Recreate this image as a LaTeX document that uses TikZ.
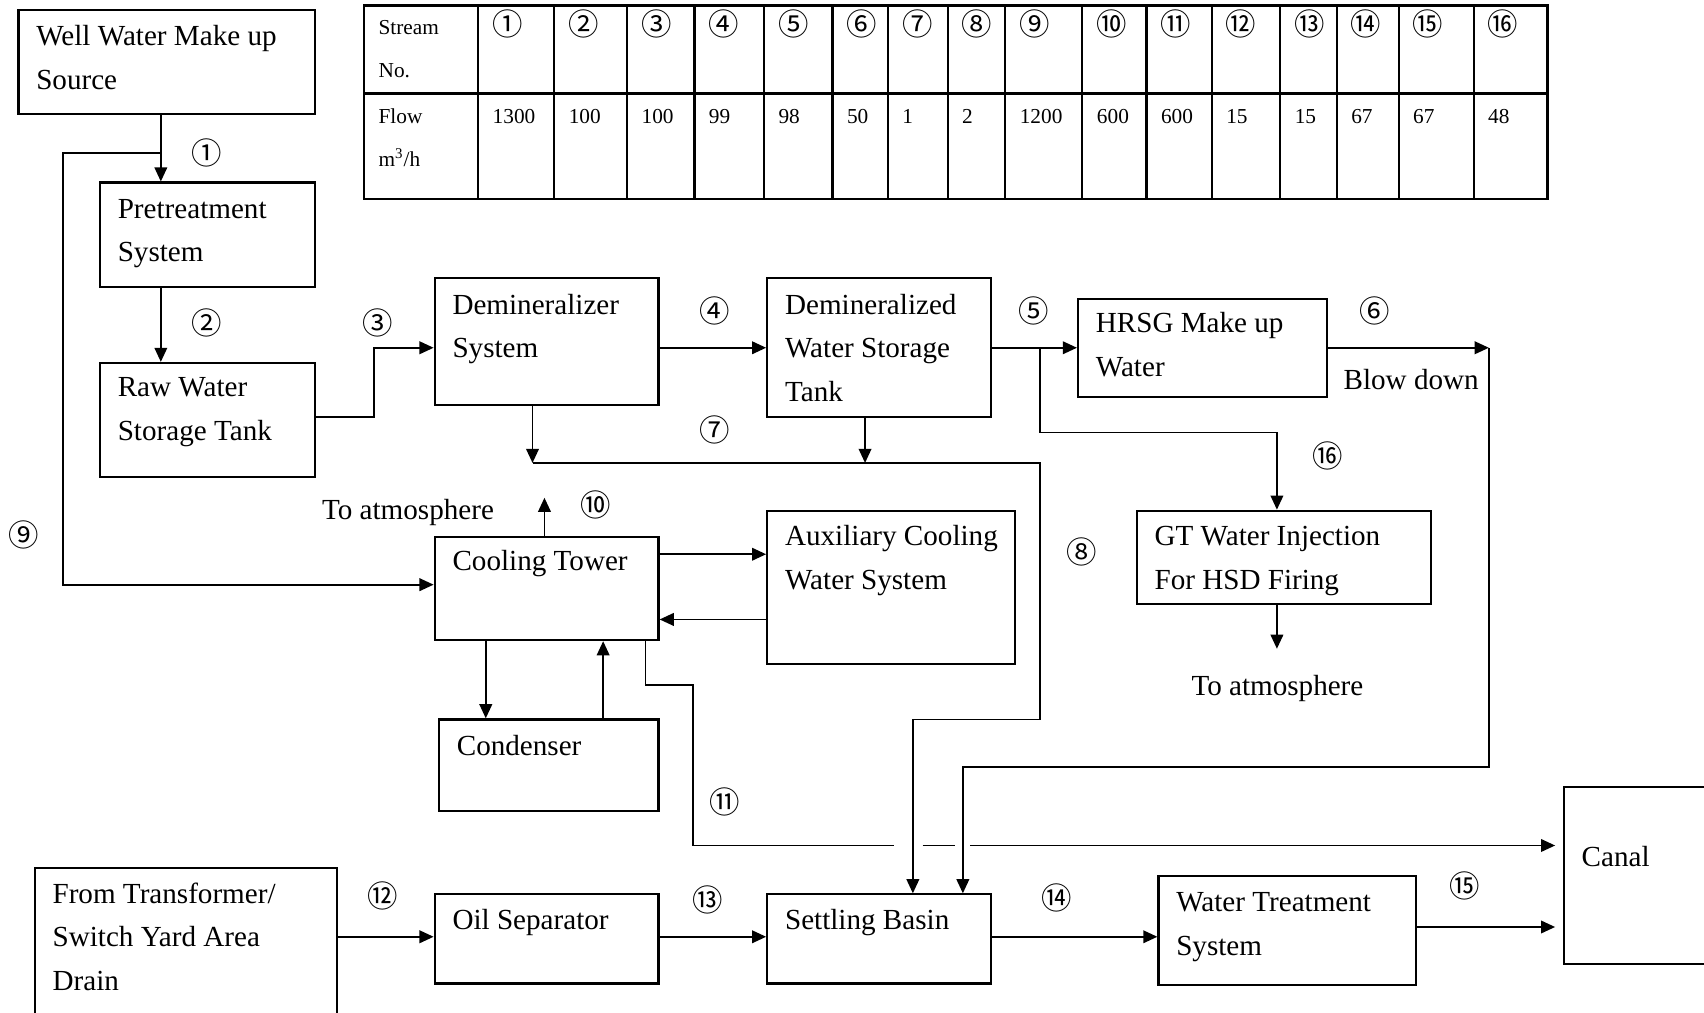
\documentclass[tikz,border=0pt]{standalone}
\usepackage{fontspec}
\usepackage{graphicx}
\setmainfont{Liberation Serif}
\newfontfamily\circfont{Noto Sans CJK SC}
\usetikzlibrary{arrows.meta,fit}
\newcommand\cn[1]{{\circfont #1}}

\begin{document}
\begin{tikzpicture}[x=0.5pt,y=-0.5pt,
  box/.style={draw, line width=1pt, inner sep=0pt},
  flow/.style={line width=0.85pt, -{Triangle[length=6.5pt,width=5.8pt]}},
  pipe/.style={line width=0.85pt},
  % multi-line labels are placed at the baseline of their last line
  txt/.style={anchor=base west, align=left, inner sep=0pt, font=\fontsize{13.4}{20}\selectfont},
  tab/.style={anchor=base west, align=left, inner sep=0pt, font=\fontsize{9.8}{19.5}\selectfont},
  num/.style={inner sep=0pt, font=\fontsize{14}{14}\selectfont}]

\useasboundingbox (0,0) rectangle (1568,932);
\clip (0,0) rectangle (1568,932);

% ---------- stream table ----------
\draw[line width=1pt] (335,5) rectangle (1424,183);
\draw[line width=1pt] (335,86) -- (1424,86);
\foreach \cx in {440,510,577,639,703,766,817,872,925,996,1055,1115,1178,1230,1287,1356}
  \draw[line width=1pt] (\cx,5) -- (\cx,183);
\node[tab] (thead) at (348,71) {Stream\\No.};
\node[tab] (tflow) at (348,153) {Flow\\m\textsuperscript{3}/h};
\foreach \cx/\n/\v [count=\i] in {440/①/1300,510/②/100,577/③/100,639/④/99,703/⑤/98,
    766/⑥/50,817/⑦/1,872/⑧/2,925/⑨/1200,996/⑩/600,1055/⑪/600,1115/⑫/15,
    1178/⑬/15,1230/⑭/67,1287/⑮/67,1356/⑯/48}{
  \node[num] (h\i) at (\cx+27,22) {\cn{\n}};
  \node[tab] (v\i) at (\cx+13,114) {\v};
}

% ---------- process units ----------
\node[box, fit={(17,9) (290,105)}] (well) {};
\node[txt] (wellT) at (33,82) {Well Water Make up\\Source};

\node[box, fit={(92,168) (290,264)}] (pre) {};
\node[txt] (preT) at (108,241) {Pretreatment\\System};

\node[box, fit={(92,334) (290,439)}] (raw) {};
\node[txt] (rawT) at (108,405) {Raw Water\\Storage Tank};

\node[box, fit={(400,256) (606,373)}] (dem) {};
\node[txt] (demT) at (416,329) {Demineralizer\\System};

\node[box, fit={(706,256) (912,384)}] (dwt) {};
\node[txt] (dwtT) at (722,369) {Demineralized\\Water Storage\\Tank};

\node[box, fit={(992,275) (1221,365)}] (hrsg) {};
\node[txt] (hrsgT) at (1008,346) {HRSG Make up\\Water};

\node[box, fit={(1046,470) (1317,556)}] (gt) {};
\node[txt] (gtT) at (1062,542) {GT Water Injection\\For HSD Firing};

\node[box, fit={(400,494) (606,589)}] (ct) {};
\node[txt] (ctT) at (416,525) {Cooling Tower};

\node[box, fit={(706,470) (934,611)}] (aux) {};
\node[txt] (auxT) at (722,542) {Auxiliary Cooling\\Water System};

\node[box, fit={(404,662) (606,746)}] (cond) {};
\node[txt] (condT) at (420,695) {Condenser};

\node[box, fit={(32,799) (310,960)}] (trf) {};
\node[txt] (trfT) at (48,911) {From Transformer/\\Switch Yard Area\\Drain};

\node[box, fit={(400,823) (606,905)}] (oil) {};
\node[txt] (oilT) at (416,855) {Oil Separator};

\node[box, fit={(706,823) (912,905)}] (set) {};
\node[txt] (setT) at (722,855) {Settling Basin};

\node[box, fit={(1066,806) (1303,906)}] (wts) {};
\node[txt] (wtsT) at (1082,879) {Water Treatment\\System};

\node[box, fit={(1439,724) (1600,887)}] (canal) {};
\node[txt] (canalT) at (1455,797) {Canal};

% free texts
\node[txt] (atm1) at (296,478) {To atmosphere};
\node[txt] (atm2) at (1096,640) {To atmosphere};
\node[txt] (blow) at (1236,358) {Blow down};

% ---------- routing points ----------
\coordinate (x1) at (148,0);
\coordinate (j9) at (148,141);
\coordinate (k9) at (58,538);
\coordinate (k3) at (344,384);
\coordinate (r1) at (0,320);
\coordinate (j5) at (957,320);
\coordinate (x16) at (1175,398);
\coordinate (k6) at (1370,320);
\coordinate (k6b) at (886,706);
\coordinate (x7a) at (490,426);
\coordinate (x7b) at (796,426);
\coordinate (k8) at (957,662);
\coordinate (x8) at (840,662);
\coordinate (x10) at (501,458);
\coordinate (ya) at (0,510);
\coordinate (yb) at (0,570);
\coordinate (xc1) at (447,0);
\coordinate (xc2) at (555,0);
\coordinate (x11) at (594,630);
\coordinate (k11) at (638,630);
\coordinate (r11) at (0,778);
\coordinate (g1) at (823,778);
\coordinate (g2) at (849,778);
\coordinate (g3) at (879,778);
\coordinate (g4) at (893,778);
\coordinate (r12) at (0,862);
\coordinate (r15) at (0,853);
\coordinate (x17) at (1175,597);

% ---------- streams ----------
\draw[flow] (x1 |- well.south) -- (x1 |- pre.north);
\draw[flow] (j9) -| (k9) -- (ct.west |- k9);
\draw[flow] (x1 |- pre.south) -- (x1 |- raw.north);
\draw[flow] (raw.east |- k3) -- (k3) |- (dem.west |- r1);
\draw[flow] (dem.east |- r1) -- (dwt.west |- r1);
\draw[flow] (dwt.east |- r1) -- (hrsg.west |- r1);
\draw[flow] (j5) |- (x16) -- (x16 |- gt.north);
\draw[flow] (hrsg.east |- r1) -- (k6);
\draw[flow] (k6) |- (k6b) -- (k6b |- set.north);
\draw[flow] (x7a |- dem.south) -- (x7a);
\draw[flow] (x7b |- dwt.south) -- (x7b);
\draw[flow] (x7a) -| (k8) -- (x8) -- (x8 |- set.north);
\draw[flow] (x10 |- ct.north) -- (x10);
\draw[flow] (ct.east |- ya) -- (aux.west |- ya);
\draw[flow] (aux.west |- yb) -- (ct.east |- yb);
\draw[flow] (xc1 |- ct.south) -- (xc1 |- cond.north);
\draw[flow] (xc2 |- cond.north) -- (xc2 |- ct.south);
\draw[pipe] (x11 |- ct.south) -- (x11) -- (k11) -- (k11 |- r11) -- (g1);
\draw[pipe] (g2) -- (g3);
\draw[flow, shorten >=3.5pt] (g4) -- (canal.west |- r11);
\draw[flow] (trf.east |- r12) -- (oil.west |- r12);
\draw[flow] (oil.east |- r12) -- (set.west |- r12);
\draw[flow] (set.east |- r12) -- (wts.west |- r12);
\draw[flow, shorten >=3.5pt] (wts.east |- r15) -- (canal.west |- r15);
\draw[flow] (x17 |- gt.south) -- (x17);

% ---------- stream numbers ----------
\node[num] (n1) at (190,141) {\cn{①}};
\node[num] (n2) at (190,297) {\cn{②}};
\node[num] (n3) at (348,297) {\cn{③}};
\node[num] (n4) at (658,286) {\cn{④}};
\node[num] (n5) at (951,286) {\cn{⑤}};
\node[num] (n6) at (1265,286) {\cn{⑥}};
\node[num] (n7) at (658,396) {\cn{⑦}};
\node[num] (n8) at (995,508) {\cn{⑧}};
\node[num] (n9) at (22,492) {\cn{⑨}};
\node[num] (n10) at (548,465) {\cn{⑩}};
\node[num] (n11) at (667,738) {\cn{⑪}};
\node[num] (n12) at (352,824) {\cn{⑫}};
\node[num] (n13) at (651,828) {\cn{⑬}};
\node[num] (n14) at (972,826) {\cn{⑭}};
\node[num] (n15) at (1348,815) {\cn{⑮}};
\node[num] (n16) at (1222,420) {\cn{⑯}};
\end{tikzpicture}
\end{document}
